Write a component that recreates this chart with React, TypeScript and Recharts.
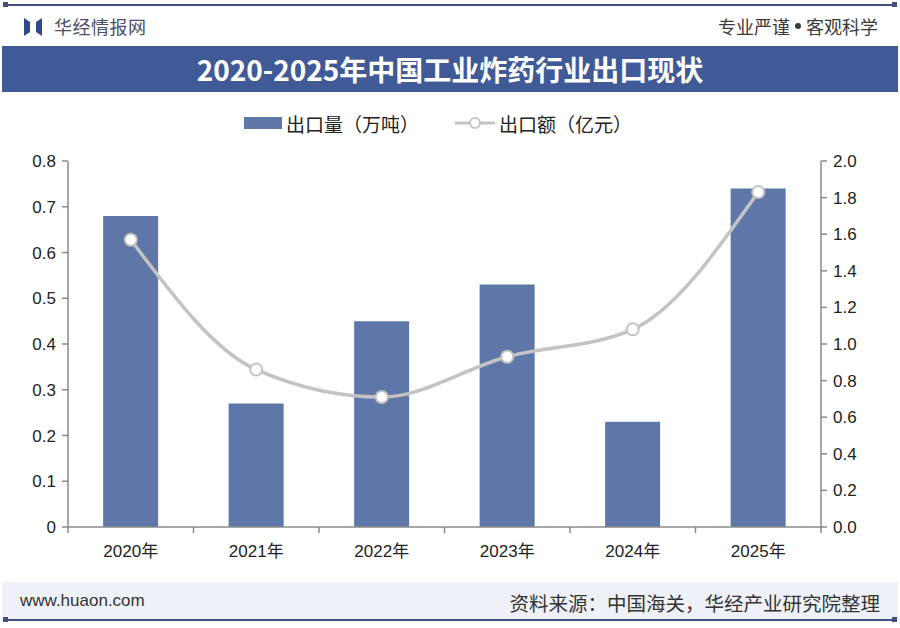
import React from 'react';
import { ComposedChart, Bar, Line, XAxis, YAxis } from 'recharts';

const categories = ['2020年', '2021年', '2022年', '2023年', '2024年', '2025年'];
const volume = [0.68, 0.27, 0.45, 0.53, 0.23, 0.74];
const amount = [1.57, 0.86, 0.71, 0.93, 1.08, 1.83];
const leftTicks = [0, 0.1, 0.2, 0.3, 0.4, 0.5, 0.6, 0.7, 0.8];
const rightTicks = [0, 0.2, 0.4, 0.6, 0.8, 1.0, 1.2, 1.4, 1.6, 1.8, 2.0];
const boundaryTicks = [0, 1, 2, 3, 4, 5, 6];

const data = categories.map((c, i) => ({ name: c, volume: volume[i], amount: amount[i], pos: i + 0.5 }));

const FONT = '"Liberation Sans", Arial, "Noto Sans CJK SC", sans-serif';
const CJK = '"Noto Sans CJK SC", "Liberation Sans", sans-serif';
const NAVY = '#3F5A96';
const BAR = '#5F77A8';
const LINE = '#C3C3C3';
const AXIS = '#8A8A8A';

export default function App() {
  return (
    <div style={{ position: 'relative', width: 900, height: 628, background: '#ffffff', overflow: 'hidden', fontFamily: CJK }}>
      <style>{`body{margin:0;}`}</style>
      {/* top line */}
      <div style={{ position: 'absolute', left: 5, top: 4, width: 890, height: 2, background: '#3E4F80' }} />
      <div style={{ position: 'absolute', left: 3, top: 2, width: 5, height: 5, background: '#3E4F80' }} />
      <div style={{ position: 'absolute', left: 892, top: 2, width: 5, height: 5, background: '#3E4F80' }} />
      {/* logo */}
      <svg style={{ position: 'absolute', left: 23, top: 17 }} width={20} height={20} viewBox="0 0 20 20">
        <path d="M1 1 L7 5 L7 15 L1 19 Z" fill="#2F4A85" />
        <path d="M19 1 L13 5 L13 15 L19 19 Z" fill="#2F4A85" />
      </svg>
      <div style={{ position: 'absolute', left: 54, top: 13, fontSize: 18, color: '#4A4E66', letterSpacing: 0.5 }}>华经情报网</div>
      <div style={{ position: 'absolute', right: 22, top: 13, fontSize: 18, color: '#3A3A3A', display: 'flex', alignItems: 'center' }}>
        <span>专业严谨</span>
        <span style={{ display: 'inline-block', width: 6, height: 6, borderRadius: 3, background: '#3A3A3A', margin: '0 5px' }} />
        <span>客观科学</span>
      </div>
      {/* title band */}
      <div style={{ position: 'absolute', left: 2, top: 46, width: 896, height: 46, background: NAVY, color: '#fff', fontSize: 28, fontWeight: 700, textAlign: 'center', lineHeight: '46px' }}>
        2020-2025年中国工业炸药行业出口现状
      </div>
      {/* legend */}
      <div style={{ position: 'absolute', left: 244, top: 110, height: 26, display: 'flex', alignItems: 'center', fontSize: 19, color: '#222' }}>
        <div style={{ width: 38, height: 12, background: BAR, marginRight: 4 }} />
        <span>出口量（万吨）</span>
        <svg width={40} height={14} style={{ marginLeft: 36, marginRight: 4 }}>
          <line x1={0} y1={7} x2={40} y2={7} stroke={LINE} strokeWidth={3} />
          <circle cx={20} cy={7} r={5} fill="#fff" stroke={LINE} strokeWidth={2} />
        </svg>
        <span>出口额（亿元）</span>
      </div>
      {/* chart */}
      <div style={{ position: 'absolute', left: 0, top: 0 }}>
        <ComposedChart width={900} height={628} data={data} margin={{ top: 161, right: 19, bottom: 61, left: 8 }} barCategoryGap="28%">
          <XAxis
            xAxisId="a"
            dataKey="pos"
            type="number"
            domain={[0, 6]}
            ticks={boundaryTicks}
            allowDataOverflow
            height={2}
            tickFormatter={() => ''}
            tickSize={6}
            axisLine={{ stroke: AXIS, strokeWidth: 1.5 }}
            tickLine={{ stroke: AXIS, strokeWidth: 1.5 }}
          />
          <XAxis
            xAxisId="b"
            dataKey="name"
            height={38}
            axisLine={false}
            tickLine={false}
            tickSize={0}
            tickMargin={16}
            tick={{ fill: '#222', fontSize: 17, fontFamily: FONT }}
          />
          <YAxis
            yAxisId="left"
            domain={[0, 0.8]}
            ticks={leftTicks}
            width={60}
            tickSize={6}
            tickMargin={6}
            tickFormatter={(v: number) => (v === 0 ? '0' : v.toFixed(1))}
            axisLine={{ stroke: AXIS, strokeWidth: 1.5 }}
            tickLine={{ stroke: AXIS, strokeWidth: 1.5 }}
            tick={{ fill: '#222', fontSize: 17, fontFamily: FONT }}
          />
          <YAxis
            yAxisId="right"
            orientation="right"
            domain={[0, 2]}
            ticks={rightTicks}
            width={60}
            tickSize={6}
            tickMargin={6}
            tickFormatter={(v: number) => v.toFixed(1)}
            axisLine={{ stroke: AXIS, strokeWidth: 1.5 }}
            tickLine={{ stroke: AXIS, strokeWidth: 1.5 }}
            tick={{ fill: '#222', fontSize: 17, fontFamily: FONT }}
          />
          <Bar xAxisId="b" yAxisId="left" dataKey="volume" fill={BAR} isAnimationActive={false} />
          <Line
            xAxisId="b"
            yAxisId="right"
            type="monotone"
            dataKey="amount"
            stroke={LINE}
            strokeWidth={3.5}
            dot={{ r: 6, fill: '#fff', stroke: LINE, strokeWidth: 2 }}
            isAnimationActive={false}
          />
        </ComposedChart>
      </div>
      {/* footer */}
      <div style={{ position: 'absolute', left: 2, top: 582, width: 896, height: 37, background: '#EEF1F7' }} />
      <div style={{ position: 'absolute', left: 20, top: 591, fontSize: 17, color: '#333', fontFamily: FONT }}>www.huaon.com</div>
      <div style={{ position: 'absolute', right: 20, top: 588, fontSize: 19.5, color: '#333' }}>资料来源：中国海关，华经产业研究院整理</div>
      <div style={{ position: 'absolute', left: 5, top: 619, width: 890, height: 2, background: '#3E4F80' }} />
      <div style={{ position: 'absolute', left: 3, top: 617, width: 5, height: 5, background: '#3E4F80' }} />
      <div style={{ position: 'absolute', left: 892, top: 617, width: 5, height: 5, background: '#3E4F80' }} />
    </div>
  );
}
